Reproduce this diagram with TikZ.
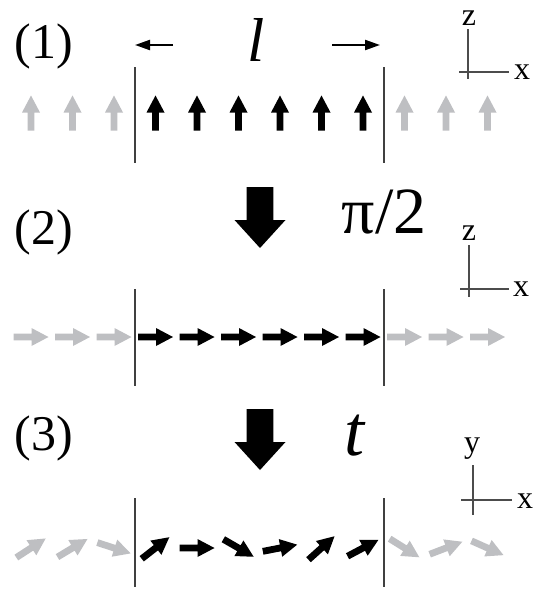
\documentclass[tikz,border=0pt]{standalone}
\usepackage{fontspec}
\setmainfont{Liberation Serif}
\usetikzlibrary{arrows.meta, positioning}

\definecolor{spingray}{RGB}{190,191,194}

\begin{document}
\begin{tikzpicture}[
    x=1pt, y=-1pt,
    spin/.pic={\fill (-17.5,-3.4) -- (0.5,-3.4) -- (0.5,-9) -- (17.5,0)
               -- (0.5,9) -- (0.5,3.4) -- (-17.5,3.4) -- cycle;},
    bigarrow/.pic={\fill (-13.3,0) -- (13.3,0) -- (13.3,33) -- (25.5,33)
               -- (0,61) -- (-25.5,33) -- (-13.3,33) -- cycle;},
    wall/.style={draw=black!75, line width=1.1pt},
    axis/.style={draw=black!70, line width=1.1pt},
    numlabel/.style={anchor=base, inner sep=0pt, font=\fontsize{50}{54}\selectfont},
    axlabel/.style={anchor=base, inner sep=0pt, font=\fontsize{32}{34}\selectfont},
    biglabel/.style={anchor=base, inner sep=0pt, font=\fontsize{66}{70}\selectfont},
    lenarrow/.style={-{Triangle[length=15pt,width=10pt]}, line width=2.2pt}
]
\useasboundingbox (0,0) rectangle (545,589);

% (1) all spins along z
\node[numlabel] (lab1) at (44,58) {(1)};
\node[biglabel, font=\fontsize{62}{66}\selectfont\itshape] (ell) at (256,61) {l};
\coordinate (lenLs) at (173,45);
\coordinate (lenL)  at (135,45);
\coordinate (lenRs) at (332,45);
\coordinate (lenR)  at (380,45);
\draw[lenarrow] (lenLs) -- (lenL);
\draw[lenarrow] (lenRs) -- (lenR);
\draw[wall] (135,67) -- (135,163);
\draw[wall] (384,67) -- (384,163);
\foreach \i in {0,...,11}{
  \ifnum\i<3 \def\col{spingray}\else\ifnum\i>8 \def\col{spingray}\else\def\col{black}\fi\fi
  \pic[color=\col, rotate=90] at ({31+41.5*\i},113) {spin};
}
\draw[axis] (468,29) -- (468,79);
\draw[axis] (459,72) -- (509,72);
\node[axlabel] (z1) at (469,25) {z};
\node[axlabel] (x1) at (522,79) {x};

% (2) after the pi/2 pulse
\node[numlabel] (lab2) at (44,244) {(2)};
\pic at (260,187) {bigarrow};
\node[biglabel] (pulse) at (384,233) {π/2};
\draw[wall] (135,289) -- (135,386);
\draw[wall] (384,289) -- (384,386);
\foreach \i in {0,...,11}{
  \ifnum\i<3 \def\col{spingray}\else\ifnum\i>8 \def\col{spingray}\else\def\col{black}\fi\fi
  \pic[color=\col] at ({31+41.5*\i},337) {spin};
}
\draw[axis] (469,245) -- (469,297);
\draw[axis] (460,289) -- (509,289);
\node[axlabel] (z2) at (469,240) {z};
\node[axlabel] (x2) at (521,296) {x};

% (3) precession for time t, seen from above
\node[numlabel] (lab3) at (44,450) {(3)};
\pic at (260,409) {bigarrow};
\node[biglabel, font=\fontsize{72}{76}\selectfont\itshape] (time) at (354,455) {t};
\draw[wall] (135,498) -- (135,587);
\draw[wall] (384,498) -- (384,587);
\foreach \ang [count=\i from 0] in {33,31,-18,38,0,-30,11,42,28,-32,21,-24}{
  \ifnum\i<3 \def\col{spingray}\else\ifnum\i>8 \def\col{spingray}\else\def\col{black}\fi\fi
  \pic[color=\col, rotate=\ang] at ({31+41.5*\i},548) {spin};
}
\draw[axis] (473,465) -- (473,515);
\draw[axis] (461,500) -- (512,500);
\node[axlabel] (y3) at (472,452) {y};
\node[axlabel] (x3) at (525,508) {x};

\end{tikzpicture}
\end{document}
